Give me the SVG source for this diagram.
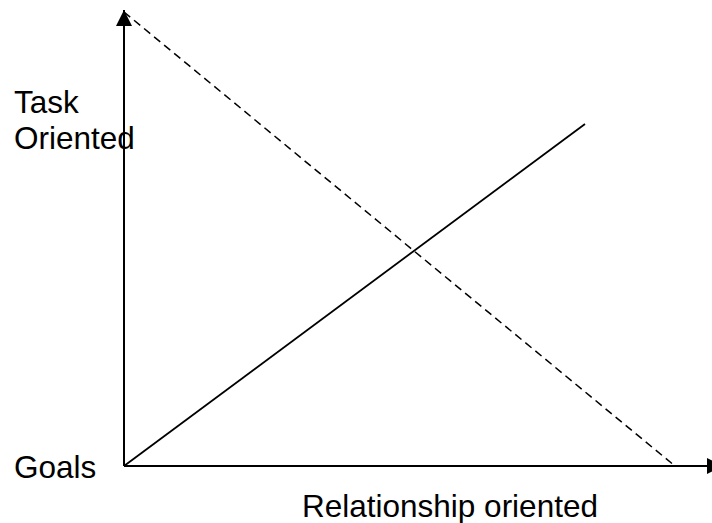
<svg xmlns="http://www.w3.org/2000/svg" width="712" height="523" viewBox="0 0 712 523">
<style>
.t{font-family:"Liberation Sans",Arial,sans-serif;font-size:31.5px;fill:#000}
.ax{stroke:#000;stroke-width:2;fill:none}
</style>
<defs>
<marker id="ah" viewBox="0 0 16 16" refX="16" refY="8" markerWidth="16" markerHeight="16" markerUnits="userSpaceOnUse" orient="auto">
<path d="M0,0 L16,8 L0,16 Z" fill="#000"/>
</marker>
</defs>
<rect width="712" height="523" fill="#fff"/>
<g id="connectors">
<line class="ax" x1="124" y1="466" x2="124" y2="10" marker-end="url(#ah)"/>
<line class="ax" x1="124" y1="466" x2="723" y2="466" marker-end="url(#ah)"/>
<line x1="124" y1="12" x2="675" y2="466" stroke="#000" stroke-width="1.5" stroke-dasharray="8,5"/>
<line x1="124" y1="466" x2="585" y2="124" stroke="#000" stroke-width="1.8"/>
</g>
<g id="task-oriented"><text class="t" x="14" y="113">Task</text><text class="t" x="14" y="149">Oriented</text></g>
<g id="goals"><text class="t" x="14" y="478">Goals</text></g>
<g id="relationship-oriented"><text class="t" x="302" y="517">Relationship oriented</text></g>
</svg>
